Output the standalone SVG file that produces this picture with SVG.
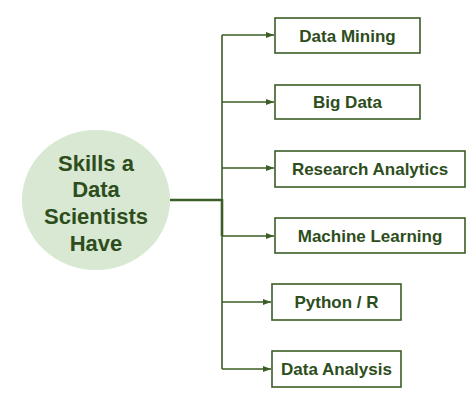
<svg xmlns="http://www.w3.org/2000/svg" width="474" height="405" viewBox="0 0 474 405">
<defs>
<style>
.box{fill:#ffffff;stroke:#3b5e26;stroke-width:1.6}
.lbl{font-family:"Liberation Sans",Arial,sans-serif;font-weight:bold;font-size:17px;fill:#2d4d1c;text-anchor:middle}
.big{font-family:"Liberation Sans",Arial,sans-serif;font-weight:bold;font-size:22px;fill:#2d4d1c;text-anchor:middle}
.ln{fill:none;stroke:#3b5e26;stroke-width:1.6}
</style>
<marker id="ar" markerWidth="8" markerHeight="6" refX="8" refY="3" orient="auto" markerUnits="userSpaceOnUse">
<path d="M0,0 L8,3 L0,6 Z" fill="#3b5e26"/>
</marker>
</defs>
<rect width="474" height="405" fill="#ffffff"/>
<g id="connectors">
<line class="ln" x1="170" y1="200" x2="222" y2="200" style="stroke-width:2.4"/>
<line class="ln" x1="222" y1="35" x2="222" y2="369"/>
<line class="ln" x1="222" y1="199" x2="222" y2="236" style="stroke-width:2.6"/>
<line class="ln" x1="222" y1="35" x2="274" y2="35" marker-end="url(#ar)"/>
<line class="ln" x1="222" y1="102" x2="274" y2="102" marker-end="url(#ar)"/>
<line class="ln" x1="222" y1="168" x2="274" y2="168" marker-end="url(#ar)"/>
<line class="ln" x1="222" y1="236" x2="274" y2="236" marker-end="url(#ar)"/>
<line class="ln" x1="222" y1="302" x2="271" y2="302" marker-end="url(#ar)"/>
<line class="ln" x1="222" y1="369" x2="271" y2="369" marker-end="url(#ar)"/>
</g>
<g id="center">
<ellipse cx="96" cy="200" rx="74" ry="70" fill="#d8e8d2"/>
<text class="big" x="96" y="171">Skills a</text>
<text class="big" x="96" y="197">Data</text>
<text class="big" x="96" y="224">Scientists</text>
<text class="big" x="96" y="251">Have</text>
</g>
<g id="data-mining">
<rect class="box" x="275" y="18" width="145" height="35"/>
<text class="lbl" x="347.5" y="41.5">Data Mining</text>
</g>
<g id="big-data">
<rect class="box" x="275" y="85" width="145" height="34"/>
<text class="lbl" x="347.5" y="108">Big Data</text>
</g>
<g id="research-analytics">
<rect class="box" x="275" y="151" width="190" height="36"/>
<text class="lbl" x="370" y="174.5">Research Analytics</text>
</g>
<g id="machine-learning">
<rect class="box" x="275" y="218" width="190" height="35"/>
<text class="lbl" x="370" y="241.5">Machine Learning</text>
</g>
<g id="python-r">
<rect class="box" x="272" y="284" width="129" height="36"/>
<text class="lbl" x="336.5" y="308">Python / R</text>
</g>
<g id="data-analysis">
<rect class="box" x="272" y="351" width="129" height="36"/>
<text class="lbl" x="336.5" y="375">Data Analysis</text>
</g>
</svg>
